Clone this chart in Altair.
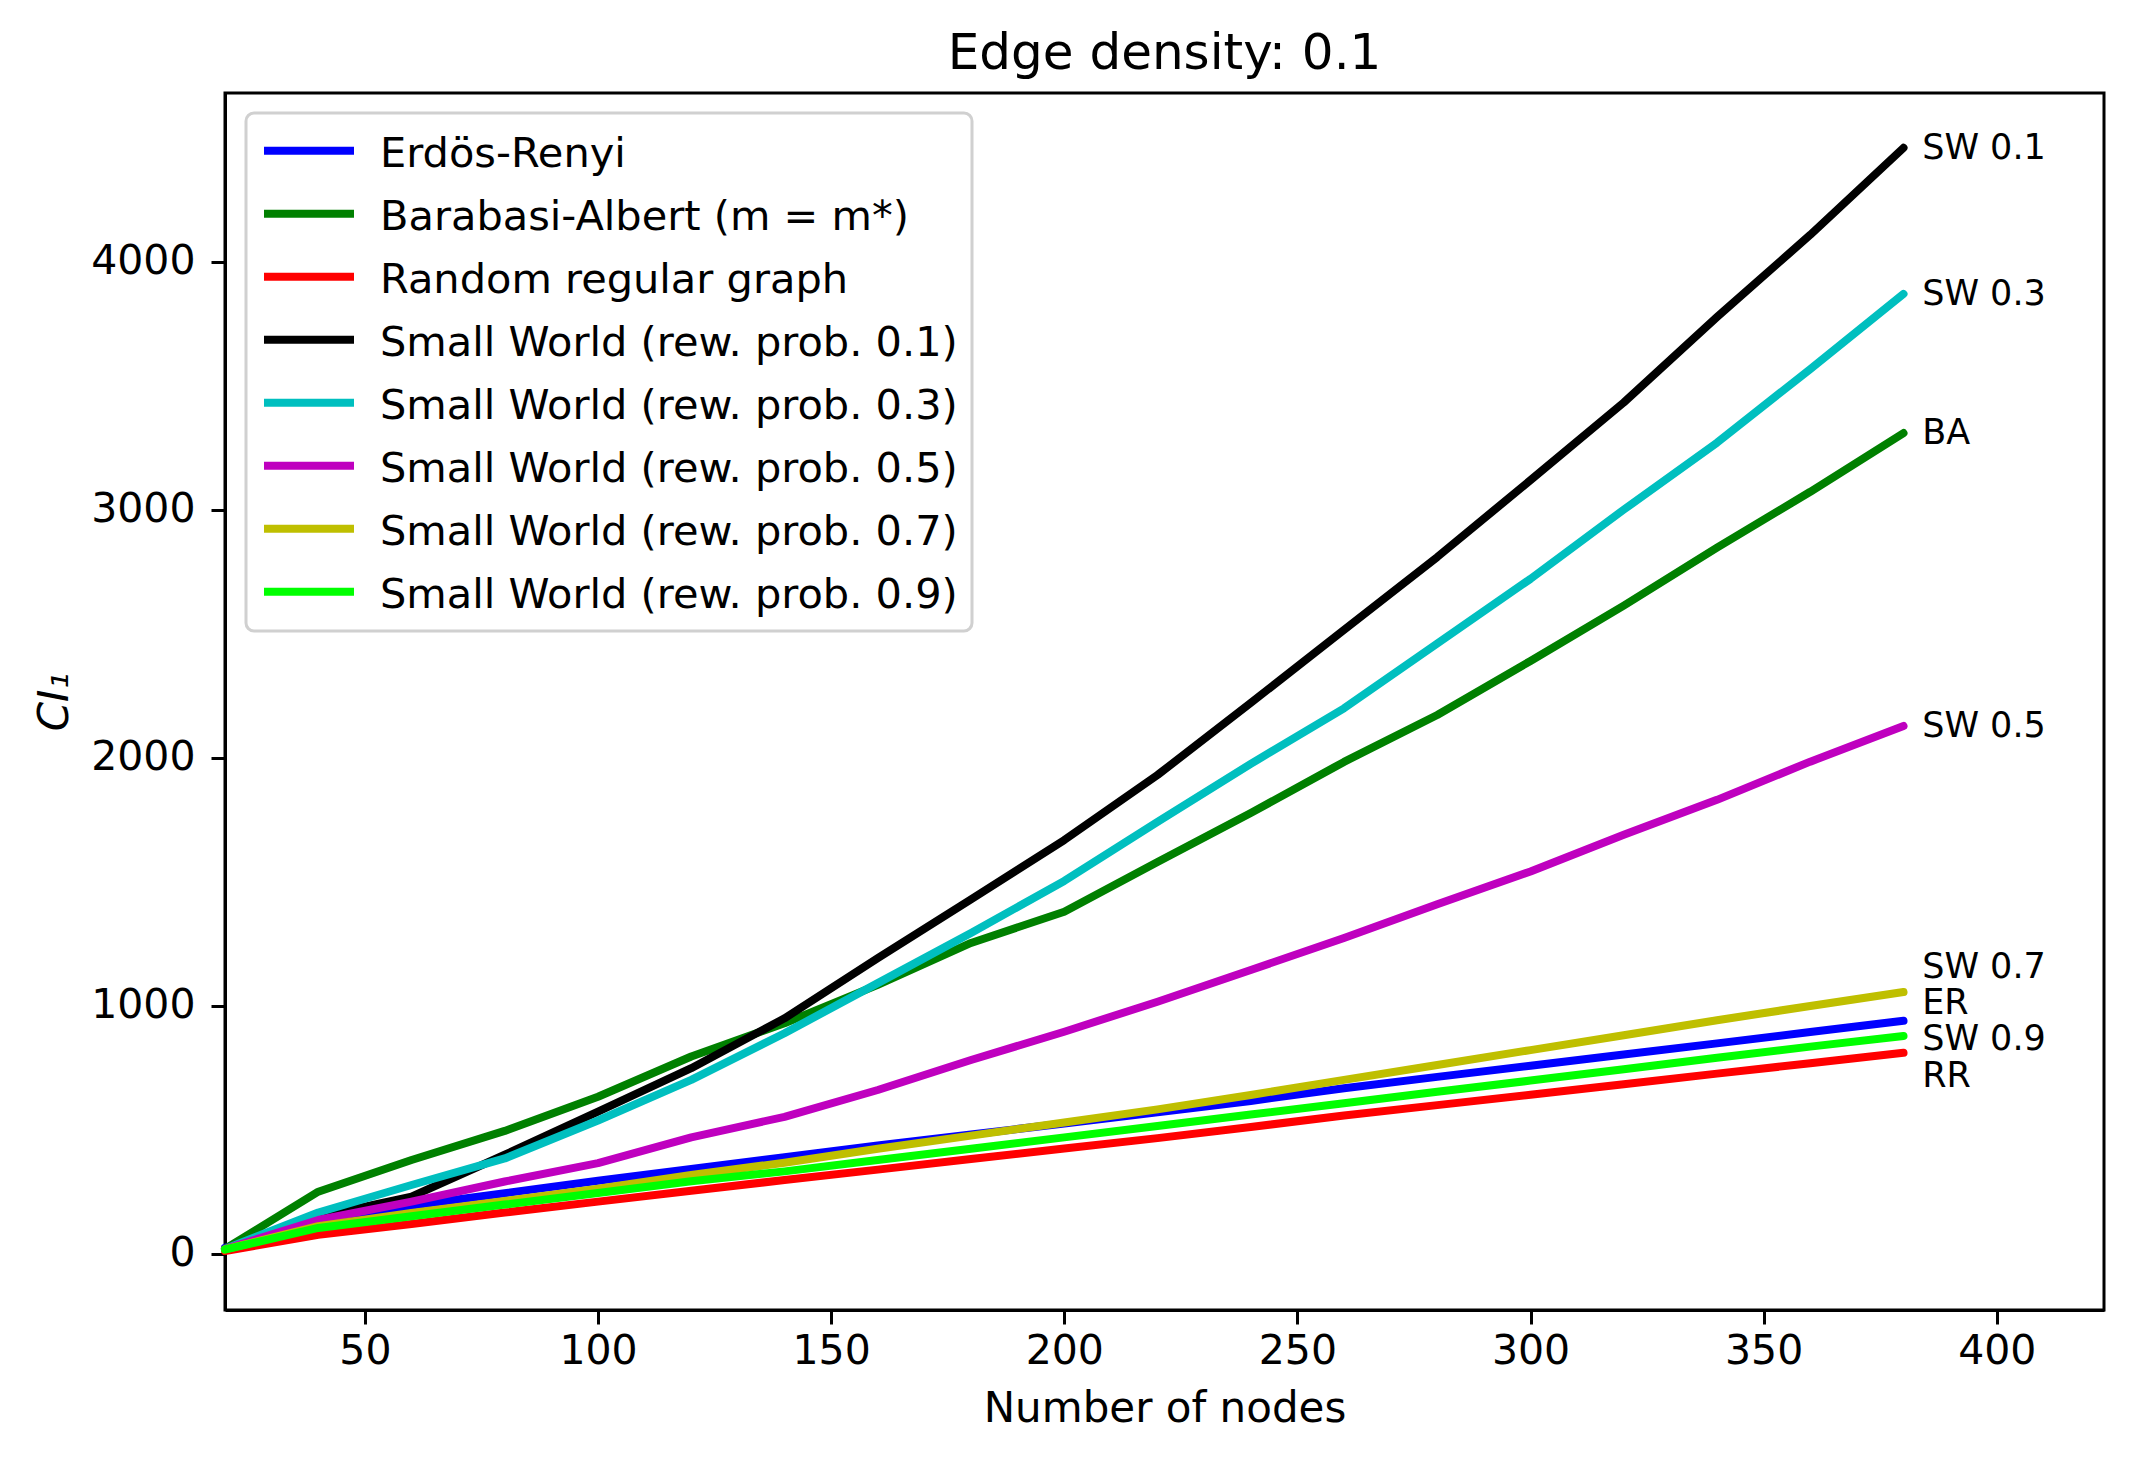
import altair as alt
import pandas as pd

nodes = [20, 40, 60, 80, 100, 120, 140, 160, 180, 200, 220, 240, 260, 280, 300, 320, 340, 360, 380]

series_names = [
    "Erdös-Renyi",
    "Barabasi-Albert (m = m*)",
    "Random regular graph",
    "Small World (rew. prob. 0.1)",
    "Small World (rew. prob. 0.3)",
    "Small World (rew. prob. 0.5)",
    "Small World (rew. prob. 0.7)",
    "Small World (rew. prob. 0.9)",
]
series_colors = ["#0000ff", "#008000", "#ff0000", "#000000", "#00bfbf", "#bf00bf", "#bfbf00", "#00ff00"]

er = [25, 135, 195, 245, 295, 343, 390, 437, 482, 526, 571, 617, 668, 714, 759, 804, 849, 895, 940]
ba = [20, 251, 379, 496, 634, 796, 930, 1085, 1254, 1380, 1580, 1778, 1984, 2173, 2391, 2614, 2848, 3073, 3310]
rr = [12, 77, 121, 167, 211, 255, 298, 340, 383, 425, 467, 512, 558, 600, 642, 684, 727, 769, 811]
sw01 = [20, 150, 231, 400, 574, 749, 950, 1193, 1430, 1669, 1931, 2222, 2516, 2810, 3120, 3433, 3778, 4109, 4460]
sw03 = [20, 167, 278, 385, 538, 702, 890, 1092, 1294, 1504, 1742, 1976, 2200, 2461, 2722, 3001, 3271, 3568, 3871]
sw05 = [20, 137, 211, 292, 366, 470, 553, 661, 782, 896, 1017, 1145, 1274, 1410, 1542, 1690, 1831, 1985, 2129]
sw07 = [18, 112, 165, 214, 263, 318, 368, 424, 477, 530, 583, 641, 702, 762, 822, 882, 942, 1000, 1056]
sw09 = [18, 105, 152, 199, 246, 293, 333, 379, 424, 470, 516, 562, 608, 654, 699, 745, 791, 836, 879]

all_series = [er, ba, rr, sw01, sw03, sw05, sw07, sw09]

end_labels = ["SW 0.1", "SW 0.3", "BA", "SW 0.5", "SW 0.7", "ER", "SW 0.9", "RR"]
end_label_x = [384, 384, 384, 384, 384, 384, 384, 384]
end_label_y = [4460, 3871, 3310, 2129, 1157, 1012, 867, 718]

x_ticks = [50, 100, 150, 200, 250, 300, 350, 400]
y_ticks = [0, 1000, 2000, 3000, 4000]

rows = []
for order, (name, vals) in enumerate(zip(series_names, all_series)):
    for n, v in zip(nodes, vals):
        rows.append({"series": name, "order": order, "nodes": n, "value": v})
df = pd.DataFrame(rows)

labels_df = pd.DataFrame({"label": end_labels, "x": end_label_x, "y": end_label_y})

FONT = "DejaVu Sans"

xscale = alt.Scale(domain=[20, 423], nice=False, zero=False)
yscale = alt.Scale(domain=[-226, 4681], nice=False, zero=False)

lines = alt.Chart(df).mark_line(strokeWidth=8, strokeCap="round", strokeJoin="round").encode(
    x=alt.X("nodes:Q", scale=xscale,
            axis=alt.Axis(title="Number of nodes", values=x_ticks, format="d",
                          labelPadding=7, titlePadding=17)),
    y=alt.Y("value:Q", scale=yscale,
            axis=alt.Axis(title="CI₁", values=y_ticks, format="d", titleFontStyle="italic",
                          labelPadding=16, titlePadding=14)),
    color=alt.Color(
        "series:N",
        scale=alt.Scale(domain=series_names, range=series_colors),
        sort=series_names,
        legend=alt.Legend(
            title=None,
            orient="none",
            legendX=21,
            legendY=20,
            symbolType="M-1,-0.56H1",
            symbolSize=8100,
            symbolStrokeWidth=8,
            labelFontSize=41.5,
            labelFont=FONT,
            labelColor="black",
            labelLimit=2000,
            labelOffset=22,
            labelBaseline="bottom",
            padding=14,
            strokeColor="#d0d0d0",
            fillColor="white",
            cornerRadius=8,
        ),
    ),
    order=alt.Order("order:Q"),
    detail="series:N",
)

texts = alt.Chart(labels_df).mark_text(
    align="left", baseline="middle", fontSize=35, font=FONT, color="black"
).encode(
    x=alt.X("x:Q", scale=xscale),
    y=alt.Y("y:Q", scale=yscale),
    text="label:N",
)

chart = alt.layer(lines, texts).properties(
    width=1879,
    height=1217,
    background="white",
    title=alt.TitleParams("Edge density: 0.1", fontSize=50, font=FONT, fontWeight="normal",
                          color="black", offset=14, anchor="middle"),
    autosize=alt.AutoSizeParams(type="none"),
    padding={"left": 217, "top": 85, "right": 17, "bottom": 152},
).configure_axis(
    grid=False,
    domainColor="black",
    domainWidth=3,
    tickColor="black",
    tickWidth=3,
    tickSize=14,
    labelFont=FONT,
    labelFontSize=41,
    labelColor="black",
    titleFont=FONT,
    titleFontSize=42,
    titleFontWeight="normal",
    titleColor="black",
).configure_legend(
    rowPadding=14, strokeWidth=3
).configure_view(
    stroke="black", strokeWidth=3
)

chart.save("out.html", embed_options={"renderer": "svg", "actions": False})
